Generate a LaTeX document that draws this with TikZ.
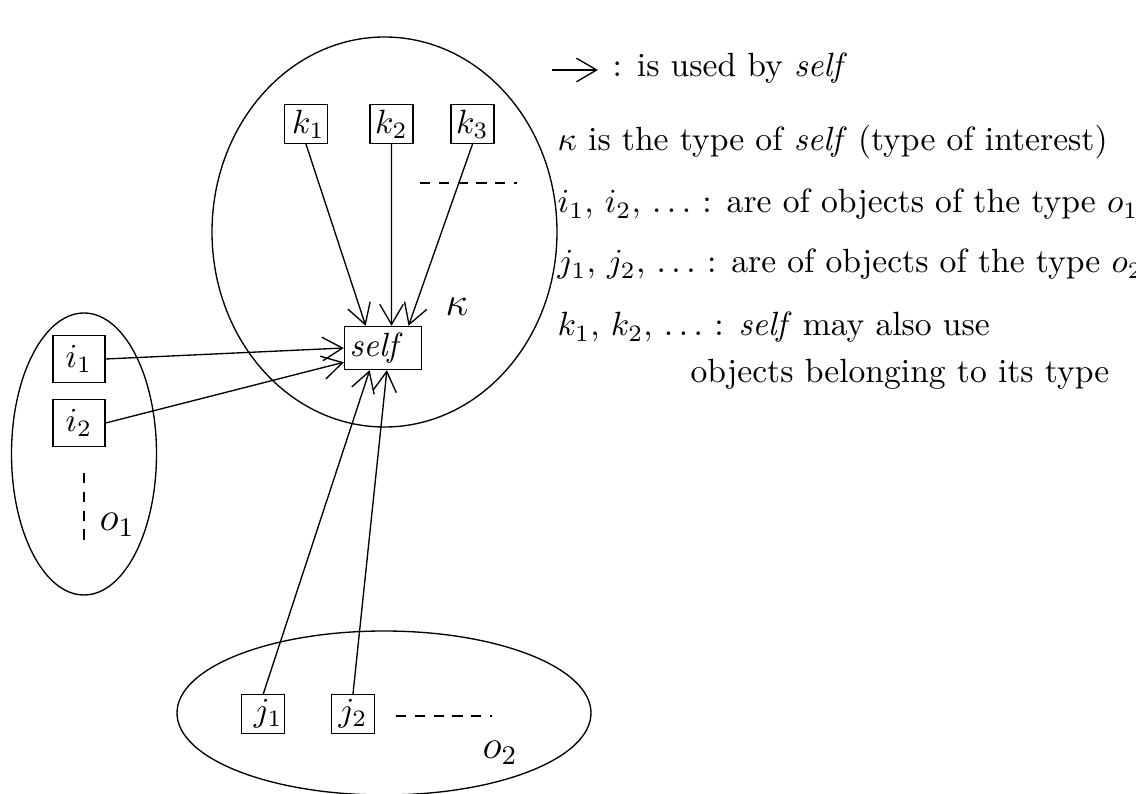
\documentclass[tikz,border=0pt]{standalone}
\usepackage{amsmath,amssymb}
\usepackage{tikz}
\usetikzlibrary{arrows.meta}

\begin{document}
\begin{tikzpicture}[x=0.2975pt,y=-0.2975pt,>={Straight Barb[length=6pt,width=7pt]}]
\tikzset{caja/.style={draw,rectangle,inner sep=0pt,minimum width=12.8pt,minimum height=11.6pt},
  cajai/.style={caja,minimum width=15.5pt,minimum height=14pt},
  rayas/.style={dash pattern=on 3pt off 2.6pt},
  leyenda/.style={anchor=base west,inner sep=0pt}}
\useasboundingbox (0,0) rectangle (1136,794);

% Elipses (tipos)
\draw (384.5,232) ellipse (172.5 and 195);
\draw (84,454) ellipse (72.5 and 141);
\draw (384,713) ellipse (207 and 82);

% Nodo self
\node (s) at (383,348) [draw,inner sep=0pt,minimum height=12.8pt,text width=22.9pt,align=left] {\hspace{1.5pt}\textit{self}};
% objetos k
\node (k1) at (306,124) [caja] {\hspace{1.5pt}$k_1$};
\node (k2) at (391.5,124) [caja] {$k_2$};
\node (k3) at (472.5,124) [caja] {$k_3$};
% objetos i
\node (i1) at (79,359) [cajai] {$i_1$};
\node (i2) at (79,423) [cajai] {$i_2$};
% objetos j
\node (j1) at (263.3,714) [caja] {\hspace{3pt}$j_1$};
\node (j2) at (353,714) [caja] {$j_2$\hspace{3pt}};

% etiquetas
\node (kappa) at (457,307) {\large $\kappa$};
\node (o1) at (117,525) {\large $o_1$};
\node (o2) at (500,753) {\large $o_2$};

% puntos suspensivos
\draw[rayas] (420,183) -- (517,183);
\draw[rayas] (84,473) -- (84,540);
\draw[rayas] (396,716) -- (492,716);

\path
(k1.south) edge [->] (s.128)
(k2.south) edge [->] (s.69)
(k3.south) edge [->] (s.41)
(i1.east) edge [->] (s.west)
(i2.east) edge [->] (s.200)
(j1.north) edge [->] (s.239)
(j2.north) edge [->] (s.-80);

% leyenda
\coordinate (a1) at (552,70);
\coordinate (a2) at (598,70);
\draw[->] (a1) -- (a2);
\node (l1) at (612,77) [leyenda] {: is used by \textit{self}};
\node (l2) at (557,151) [leyenda] {$\kappa$ is the type of \textit{self} (type of interest)};
\node (l3) at (557,213) [leyenda] {$i_1$, $i_2$, $\ldots$ : are of objects of the type $o_1$};
\node (l4) at (557,273) [leyenda] {$j_1$, $j_2$, $\ldots$ : are of objects of the type $o_2$};
\node (l5) at (557,336) [leyenda] {$k_1$, $k_2$, $\ldots$ : \textit{self} may also use};
\node (l6) at (690,383) [leyenda] {objects belonging to its type};

\end{tikzpicture}
\end{document}
